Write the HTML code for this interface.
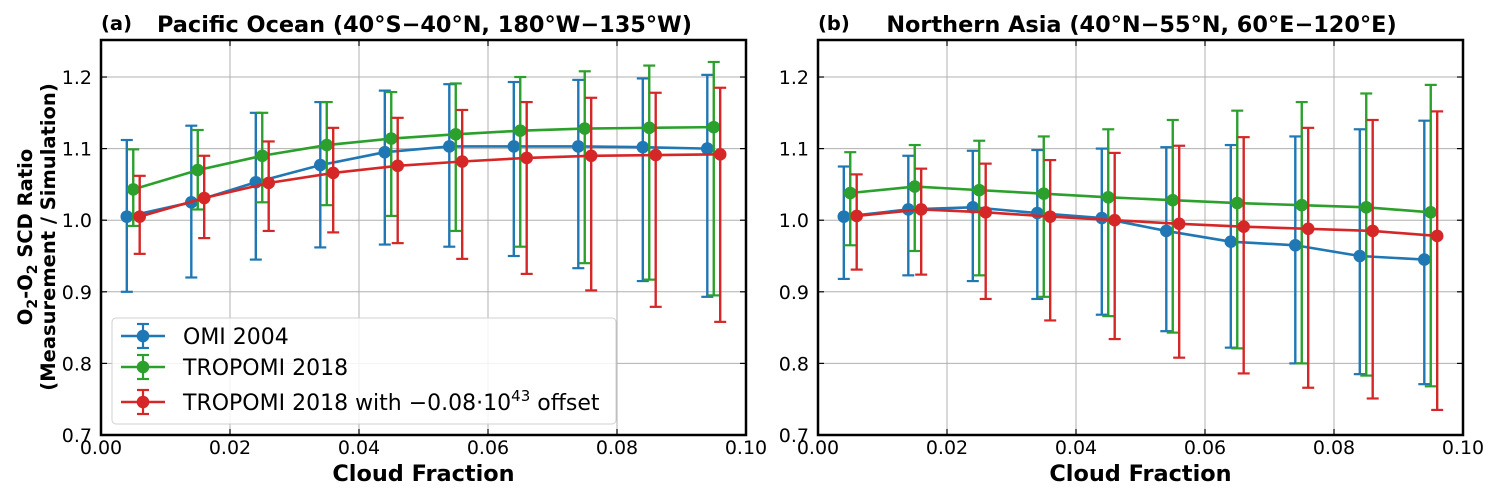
<!DOCTYPE html>
<html><head><meta charset="utf-8">
<style>
html,body{margin:0;padding:0;background:#fff;}
svg{display:block;font-family:"DejaVu Sans","Liberation Sans",sans-serif;}
</style></head>
<body>
<svg id="chart" width="1498" height="495" viewBox="0 0 1498 495" xmlns="http://www.w3.org/2000/svg"></svg>
<script>
const xCats = [0.005,0.015,0.025,0.035,0.045,0.055,0.065,0.075,0.085,0.095];
const xTicks = [0.00,0.02,0.04,0.06,0.08,0.10];
const xTickLabels = ["0.00","0.02","0.04","0.06","0.08","0.10"];
const yTicks = [0.7,0.8,0.9,1.0,1.1,1.2];
const yTickLabels = ["0.7","0.8","0.9","1.0","1.1","1.2"];
const seriesNames = ["OMI 2004","TROPOMI 2018","TROPOMI 2018 with offset"];
const seriesOffsets = [-0.001,0,0.001];
const colors = ["#1f77b4","#2ca02c","#d62728"];

// Panel a
const aOmi = [1.005,1.025,1.053,1.077,1.095,1.103,1.103,1.103,1.102,1.100];
const aOmiHi = [1.112,1.132,1.150,1.165,1.181,1.190,1.193,1.196,1.198,1.203];
const aOmiLo = [0.900,0.920,0.945,0.962,0.966,0.963,0.950,0.933,0.915,0.893];
const aTro = [1.043,1.070,1.090,1.105,1.114,1.120,1.125,1.128,1.129,1.130];
const aTroHi = [1.099,1.126,1.150,1.165,1.179,1.191,1.200,1.208,1.216,1.221];
const aTroLo = [0.992,1.015,1.025,1.021,1.006,0.985,0.963,0.940,0.917,0.895];
const aOff = [1.005,1.031,1.052,1.066,1.076,1.082,1.087,1.090,1.091,1.092];
const aOffHi = [1.062,1.090,1.110,1.129,1.143,1.154,1.165,1.171,1.178,1.185];
const aOffLo = [0.953,0.975,0.985,0.983,0.968,0.946,0.925,0.902,0.879,0.858];
// Panel b
const bOmi = [1.005,1.015,1.018,1.010,1.003,0.985,0.970,0.965,0.950,0.945];
const bOmiHi = [1.075,1.090,1.097,1.098,1.100,1.102,1.105,1.117,1.127,1.139];
const bOmiLo = [0.918,0.923,0.915,0.890,0.868,0.845,0.822,0.800,0.785,0.771];
const bTro = [1.038,1.047,1.042,1.037,1.032,1.028,1.024,1.021,1.018,1.011];
const bTroHi = [1.095,1.105,1.111,1.117,1.127,1.140,1.153,1.165,1.177,1.189];
const bTroLo = [0.965,0.957,0.923,0.893,0.866,0.843,0.821,0.800,0.783,0.768];
const bOff = [1.006,1.015,1.011,1.005,1.000,0.995,0.991,0.988,0.985,0.978];
const bOffHi = [1.064,1.072,1.079,1.084,1.094,1.104,1.116,1.129,1.140,1.152];
const bOffLo = [0.931,0.924,0.890,0.860,0.834,0.808,0.786,0.766,0.751,0.735];

const NS = "http://www.w3.org/2000/svg";
const svg = document.getElementById("chart");
function mk(tag, attrs, parent){
  const e = document.createElementNS(NS, tag);
  for (const k in attrs) e.setAttribute(k, attrs[k]);
  (parent||svg).appendChild(e);
  return e;
}
const Y0 = 40, Y1 = 435, YMIN = 0.7, YMAX = 1.2517;

function panel(left, right, key, letter, title, data, showYLabel, showLegend){
  const g = mk("g", {});
  
  
  const xs = v => left + (v - 0) / 0.1 * (right - left);
  const ys = v => Y1 - (v - YMIN) / (YMAX - YMIN) * (Y1 - Y0);
  xTicks.forEach((t,i)=>{
    const l = mk("line",{x1:xs(t),x2:xs(t),y1:Y0,y2:Y1,stroke:"#b0b0b0","stroke-width":1},g);
    
    
    const tk = mk("line",{x1:xs(t),x2:xs(t),y1:Y1,y2:Y1-6,stroke:"#000","stroke-width":1.2},g);
    
    
    const tk2 = mk("line",{x1:xs(t),x2:xs(t),y1:Y0,y2:Y0+6,stroke:"#000","stroke-width":1.2},g);
    
    
    const tx = mk("text",{x:xs(t),y:Y1+19,"text-anchor":"middle","font-size":19,fill:"#000"},g);
    tx.textContent = xTickLabels[i];
    
    
  });
  yTicks.forEach((t,i)=>{
    const l = mk("line",{x1:left,x2:right,y1:ys(t),y2:ys(t),stroke:"#b0b0b0","stroke-width":1},g);
    
    
    const tk = mk("line",{x1:left,x2:left+6,y1:ys(t),y2:ys(t),stroke:"#000","stroke-width":1.2},g);
    
    
    const tk2 = mk("line",{x1:right,x2:right-6,y1:ys(t),y2:ys(t),stroke:"#000","stroke-width":1.2},g);
    
    
    const tx = mk("text",{x:left-9,y:ys(t)+7,"text-anchor":"end","font-size":19,fill:"#000"},g);
    tx.textContent = yTickLabels[i];
    
    
  });
  data.forEach((s,si)=>{
    const sg = mk("g",{},g);
    
    
    const c = colors[si];
    xCats.forEach((x,i)=>{
      const px = xs(x + seriesOffsets[si]);
      const e = mk("line",{x1:px,x2:px,y1:ys(s.hi[i]),y2:ys(s.lo[i]),stroke:c,"stroke-width":2.4},sg);
      
      
      [s.hi[i], s.lo[i]].forEach(v=>{
        const cap = mk("line",{x1:px-6,x2:px+6,y1:ys(v),y2:ys(v),stroke:c,"stroke-width":2.2},sg);
        
        
      });
    });
    const pts = xCats.map((x,i)=>xs(x+seriesOffsets[si])+","+ys(s.v[i])).join(" ");
    const pl = mk("polyline",{points:pts,fill:"none",stroke:c,"stroke-width":2.6},sg);
    
    
    xCats.forEach((x,i)=>{
      const p = mk("circle",{cx:xs(x+seriesOffsets[si]),cy:ys(s.v[i]),r:6.3,fill:c},sg);
      
      
    });
  });
  const fr = mk("rect",{x:left,y:Y0,width:right-left,height:Y1-Y0,fill:"none",stroke:"#000","stroke-width":2.5},g);
  
  
  const lt = mk("text",{x:left,y:30,"font-size":19.5,"font-weight":"bold"},g);
  lt.textContent = letter;
  
  
  const tt = mk("text",{x:(left+right)/2 + 1,y:32,"text-anchor":"middle","font-size":22.4,"font-weight":"bold"},g);
  tt.textContent = title;
  
  
  const xl = mk("text",{x:(left+right)/2,y:481,"text-anchor":"middle","font-size":22.4,"font-weight":"bold"},g);
  xl.textContent = "Cloud Fraction";
  
  
  if (showYLabel){
    const yl = mk("text",{transform:"translate(32,237) rotate(-90)","text-anchor":"middle","font-size":19.5,"font-weight":"bold"},g);
    yl.innerHTML = 'O<tspan font-size="14" dy="5">2</tspan><tspan dy="-5">-O</tspan><tspan font-size="14" dy="5">2</tspan><tspan dy="-5"> SCD Ratio</tspan>';
    
    
    const yl2 = mk("text",{transform:"translate(55,237) rotate(-90)","text-anchor":"middle","font-size":19.5,"font-weight":"bold"},g);
    yl2.textContent = "(Measurement / Simulation)";
    
    
  }
  if (showLegend){
    const lg = mk("g",{},g);
    
    
    mk("rect",{x:112,y:318,width:504,height:106,rx:4,fill:"#fff","fill-opacity":0.85,stroke:"#d0d0d0"},lg);
    const labels = ["OMI 2004","TROPOMI 2018",null];
    [336,367,402].forEach((yy,i)=>{
      const en = mk("g",{},lg);
      
      
      const c = colors[i];
      mk("line",{x1:121,x2:165,y1:yy,y2:yy,stroke:c,"stroke-width":2.6},en);
      mk("line",{x1:143,x2:143,y1:yy-12,y2:yy+12,stroke:c,"stroke-width":2.2},en);
      mk("line",{x1:137,x2:149,y1:yy-12,y2:yy-12,stroke:c,"stroke-width":2.2},en);
      mk("line",{x1:137,x2:149,y1:yy+12,y2:yy+12,stroke:c,"stroke-width":2.2},en);
      mk("circle",{cx:143,cy:yy,r:6.3,fill:c},en);
      const t = mk("text",{x:183,y:yy+8,"font-size":22},en);
      if (labels[i]) t.textContent = labels[i];
      else t.innerHTML = 'TROPOMI 2018 with \u22120.08\u00b710<tspan font-size="15" dy="-9">43</tspan><tspan dy="9"> offset</tspan>';
    });
  }
}
panel(101,746,"a","(a)","Pacific Ocean (40\u00b0S\u221240\u00b0N, 180\u00b0W\u2212135\u00b0W)",
  [{v:aOmi,hi:aOmiHi,lo:aOmiLo},{v:aTro,hi:aTroHi,lo:aTroLo},{v:aOff,hi:aOffHi,lo:aOffLo}],true,true);
panel(818,1463,"b","(b)","Northern Asia (40\u00b0N\u221255\u00b0N, 60\u00b0E\u2212120\u00b0E)",
  [{v:bOmi,hi:bOmiHi,lo:bOmiLo},{v:bTro,hi:bTroHi,lo:bTroLo},{v:bOff,hi:bOffHi,lo:bOffLo}],false,false);
</script>
</body></html>
